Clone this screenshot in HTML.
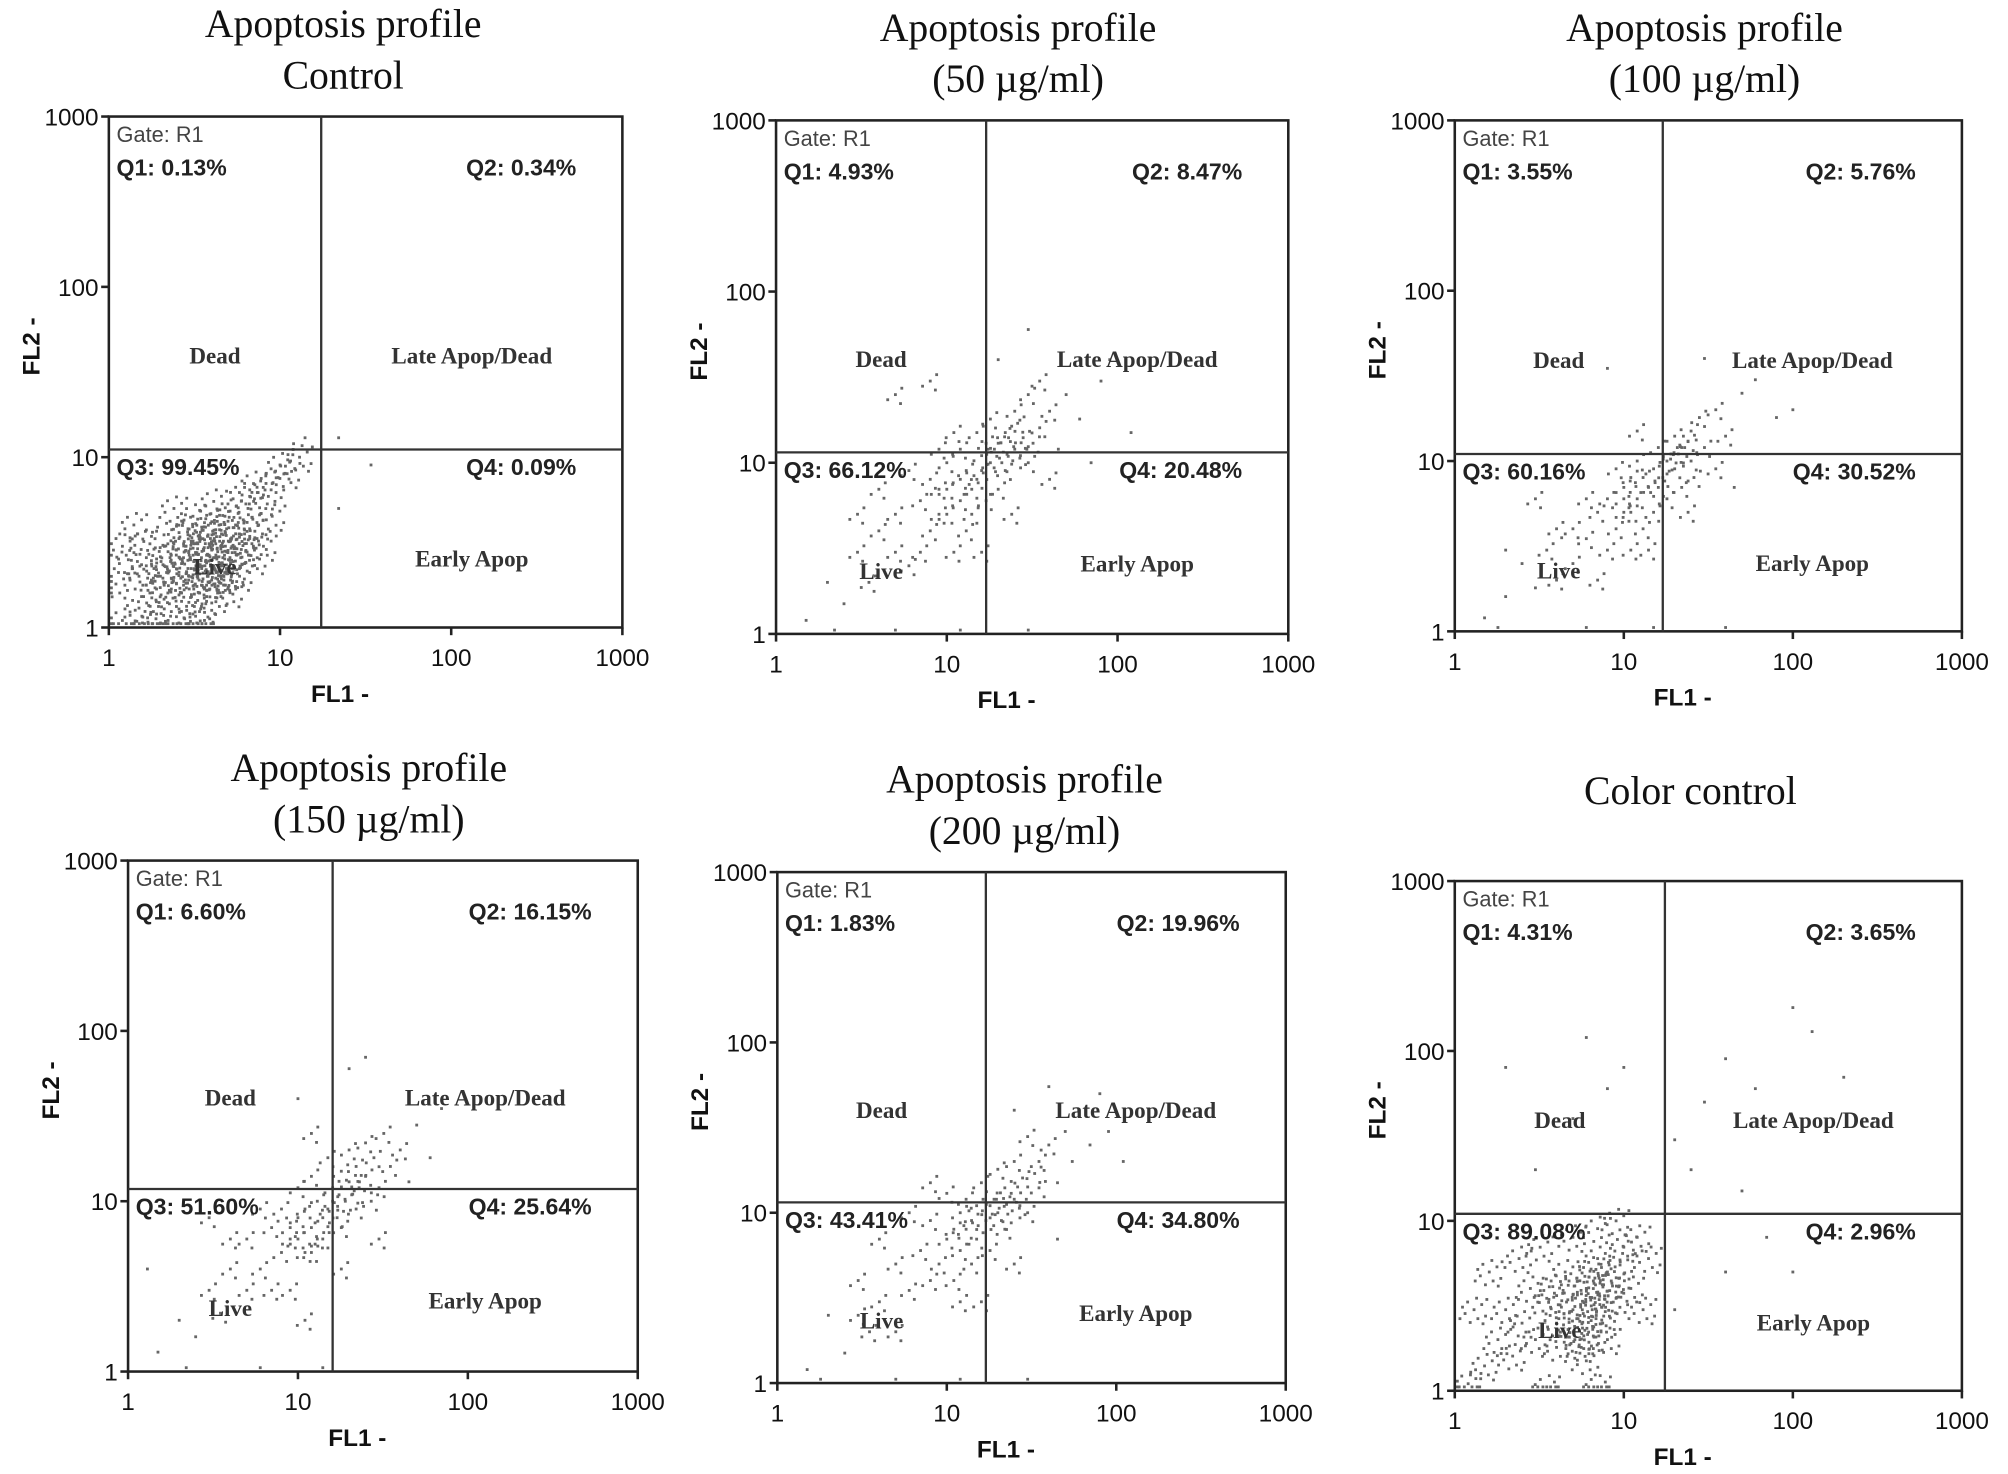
<!DOCTYPE html>
<html><head><meta charset="utf-8"><style>
body{margin:0;background:#fff}
svg{display:block}
</style></head><body>
<svg id="fig" width="2008" height="1474" viewBox="0 0 1568 1151" xmlns="http://www.w3.org/2000/svg"></svg>
<script>
const ticks=[1,10,100,1000];
const tickLabels=["1","10","100","1000"];
const titles1=["Apoptosis profile","Apoptosis profile","Apoptosis profile","Apoptosis profile","Apoptosis profile","Color control"];
const titles2=["Control","(50 µg/ml)","(100 µg/ml)","(150 µg/ml)","(200 µg/ml)",""];
const q1=["0.13%","4.93%","3.55%","6.60%","1.83%","4.31%"];
const q2=["0.34%","8.47%","5.76%","16.15%","19.96%","3.65%"];
const q3=["99.45%","66.12%","60.16%","51.60%","43.41%","89.08%"];
const q4=["0.09%","20.48%","30.52%","25.64%","34.80%","2.96%"];
const gateX=[17.4,17,17,16,17,17.5];
const gateY=[11.1,11.5,11,11.8,11.5,11];
const pts0="1.2,1.1 1.5,1.3 1.8,1.6 2,2 2.2,1.4 2.5,2.2 2.8,3 3,2.5 3.2,1.8 3.5,2.8 3.8,3.5 4,2.2 4.2,1.5 4.5,3 5,2.5 5.5,4 6,3.2 6.5,5 7,2.5 8,6 9,7 10,9 12,12 14,13 1.3,2.5 1.6,3.2 1.9,1.2 2.3,2.7 2.6,1.7 2.9,3.8 3.3,2 3.6,1.3 3.9,2.6 4.3,4.2 4.7,1.9 5.2,3.3 5.8,2 6.3,2.8 7.5,4 1.1,1.8 1.4,4 2.1,3.5 2.4,5 2.7,2.4 3.1,4.5 3.4,3.2 3.7,2.1 4.1,5.5 4.6,2.4 5.1,1.6 5.6,2.9 1.7,1.05 2.5,1.05 3.5,1.05 1.5,2 2,2.6 3,1.5 4,3.5 4.5,2 5,4.8 6,6 8,3 9,4.5 2.2,2.2 3.3,2.9 3.8,2 4.4,2.6 2.8,1.9 1.2,3 1.6,2.2 2.1,1.8 2.6,3.4 3.1,1.2 3.6,3.9 4.1,1.8 4.8,3.6 5.3,2.1 6.7,3.7 7,7 11,8 13,10 22,13 34,9 22,5";
const pts1="1.5,1.2 2,2 2.5,1.5 3,3 3.5,2 4,4 5,3 5,5 6,2.5 7,6 8,4 8,8 9,5 10,7 10,10 11,3 12,6 12,12 13,9 14,5 15,8 15,15 16,11 17,6 18,10 18,18 20,13 20,7 22,15 22,9 25,12 25,20 28,14 30,10 30,25 35,16 35,30 40,20 45,12 50,25 60,18 60,40 80,30 30,60 20,40 6,9 9,12 11,15 4,7 7,3 3,5 13,4 16,3 24,5 40,8 70,10 2.2,1.05 5,1.05 12,1.05 30,1.05 90,40 120,15 5,25 8,30 14,7 16,9 19,12 21,10 23,14 26,17 32,13 12,8 10,5 9,7 17,13 27,11";
const pts2="1.5,1.2 2,1.6 2.5,2.5 3,1.8 3.5,3 4,2 5,4 5,2.5 6,3.5 7,5 8,3 8,6 9,4 10,7 10,5 11,8 12,6 12,10 13,4 14,7 15,9 15,5 16,12 17,8 18,6 19,11 20,14 20,9 22,12 22,7 25,15 25,10 28,18 30,12 35,20 35,9 40,14 50,25 60,30 80,18 12,15 9,9 6,6 4,4 3,6 2,3 7,2 11,3 14,3 24,5 45,7 1.8,1.05 6,1.05 15,1.05 40,1.05 8,35 30,40 100,20 10,6 13,8 16,7 18,10 21,11 24,13 26,8 11,5";
const pts3="1.5,1.3 2,2 2.5,1.6 3,3 3.5,2.2 4,4 5,3 5,6 6,4 7,7 7,3 8,5 8,9 9,6 10,8 10,12 11,5 12,7 12,14 13,10 14,6 15,9 15,18 16,12 17,8 18,15 19,10 20,20 20,13 22,16 22,9 25,22 25,14 28,18 30,12 32,25 35,16 40,20 45,13 50,28 60,18 70,35 20,60 25,70 10,40 12,25 6,9 4,6 3,8 9,3 11,2 18,4 30,6 1.3,4 2.2,1.05 6,1.05 14,1.05 9,7 11,9 13,6 14,8 16,10 18,7 21,11 23,13 27,10 12,5 10,6";
const pts4="1.5,1.2 2,2.5 2.5,1.5 3,4 3.5,2 4,3 5,5 5,2 6,3.5 7,6 8,4 8,9 9,5 10,7 10,13 11,4 12,6 12,10 13,8 14,5 15,11 15,7 16,15 17,9 18,6 19,12 20,18 20,10 22,14 22,8 25,20 25,12 28,16 30,10 30,28 35,20 35,14 40,25 45,15 50,30 55,20 60,40 70,25 80,50 90,30 110,20 25,40 40,55 8,15 6,10 4,7 3,2.5 12,3 16,3 25,5 45,7 1.8,1.05 5,1.05 12,1.05 30,1.05 14,9 18,11 21,9 24,13 27,11 33,17 13,12 11,8";
const pts5="1.2,1.1 1.5,1.4 1.8,2 2,3 2.2,1.6 2.5,2.5 2.8,4 3,2 3.5,3.5 4,2.5 4.5,5 5,3 5.5,2 6,4 6.5,3 7,6 7.5,2.5 8,5 9,3.5 10,7 11,4 12,8 13,3 14,6 6,1.5 4,1.8 8,2 1.3,3 1.6,5 2.4,6 3.2,7 5,8 7,9 9,10 3,20 5,40 8,60 10,80 20,30 30,50 40,90 60,60 100,180 130,130 200,70 300,40 25,20 50,15 70,8 100,5 40,5 20,3 2,80 6,120 3.5,1.05 7,1.05 5.8,3.3 6.2,2.7 6.8,4.2 7.2,3.6 5.3,4.4 4.8,2.2 6.4,5.2 7.8,3.1 8.5,4.3 5.6,1.8 6.6,2.1 3.8,4.1 4.2,3.2 9.5,5.5";
const ptsAll=[pts0,pts1,pts2,pts3,pts4,pts5];
// visual rendering: core events drawn as a small fixed dot cluster (styling, not data)
const clusterDense=[[0,0],[-7,3],[6,-4],[3,7],[-5,-6],[9,5],[-9,-2],[2,-9],[-3,10],[10,-8],[-11,7],[7,11]];
const clusterSparse=[[0,0],[-6,4],[5,-5],[4,7]];
const single=[[0,0]];
const denseFlag=[true,false,false,false,false,true];
const boxes=[[85,91,401,399],[606,94,400,401],[1136,94,396,399],[100,672,398,399],[607,681,397,399],[1136,688,396,398]];
const titleCx=[268,795,1331,288,800,1320];
const svg=document.getElementById('fig');
const NS="http://www.w3.org/2000/svg";
function mk(t,a,txt,p){const e=document.createElementNS(NS,t);for(const k in a)e.setAttribute(k,a[k]);if(txt!=null)e.textContent=txt;(p||svg).appendChild(e);return e;}
boxes.forEach((b,i)=>{
  const [L,T,W,H]=b;
  const g=mk('g',{});
  
  
  const sx=v=>L+Math.log10(v)/3*W, sy=v=>T+H-Math.log10(v)/3*H;
  const cx=titleCx[i];
  const tf='font-family:"Liberation Serif",serif;font-size:31px;fill:#111';
  if(titles2[i]){
    let t=mk('text',{x:cx,y:T-62,'text-anchor':'middle',style:tf},titles1[i],g);
    
    t=mk('text',{x:cx,y:T-22,'text-anchor':'middle',style:tf},titles2[i],g);
    
  } else {
    let t=mk('text',{x:cx,y:T-60,'text-anchor':'middle',style:tf},titles1[i],g);
    
  }
  ptsAll[i].split(' ').forEach(s=>{const [x,y]=s.split(',').map(Number);
    const px=sx(x), py=sy(y);
    let cl;
    if(denseFlag[i]) cl=(x<gateX[i]&&y<gateY[i])?clusterDense:single;
    else cl=(x>=3&&x<=40&&y>=2&&y<=30)?clusterSparse:single;
    cl.forEach(o=>{
      const qx=Math.min(Math.max(px+o[0],L+2),L+W-3), qy=Math.min(Math.max(py+o[1],T+2),T+H-3);
      const c=mk('rect',{x:qx-1.1,y:qy-1.1,width:2.2,height:2.2,fill:'#666'},null,g);
      });
  });
  const fr=mk('rect',{x:L,y:T,width:W,height:H,fill:'none',stroke:'#222','stroke-width':2},null,g);
  
  let v=mk('line',{x1:sx(gateX[i]),x2:sx(gateX[i]),y1:T,y2:T+H,stroke:'#333','stroke-width':1.8},null,g);
  
  v=mk('line',{x1:L,x2:L+W,y1:sy(gateY[i]),y2:sy(gateY[i]),stroke:'#333','stroke-width':1.8},null,g);
  
  const af='font-family:"Liberation Sans",sans-serif;font-size:19px;fill:#111';
  ticks.forEach((tv,k)=>{
    let t=mk('text',{x:sx(tv),y:T+H+30,'text-anchor':'middle',style:af},tickLabels[k],g);
    
    t=mk('text',{x:L-8,y:sy(tv)+7,'text-anchor':'end',style:af},tickLabels[k],g);
    
    mk('line',{x1:L-6,x2:L,y1:sy(tv),y2:sy(tv),stroke:'#222','stroke-width':2},null,g);
    mk('line',{x1:sx(tv),x2:sx(tv),y1:T+H,y2:T+H+6,stroke:'#222','stroke-width':2},null,g);
  });
  const bf='font-family:"Liberation Sans",sans-serif;font-size:19px;font-weight:bold;fill:#111';
  let t=mk('text',{x:L+(W/2)-20,y:T+H+58,'text-anchor':'middle',style:bf},'FL1 -',g);
  
  t=mk('text',{x:0,y:0,'text-anchor':'middle',style:bf,transform:`translate(${L-54},${T+H/2-20}) rotate(-90)`},'FL2 -',g);
  
  const gx=sx(gateX[i]), gy=sy(gateY[i]);
  const qf='font-family:"Liberation Sans",sans-serif;font-size:18px;font-weight:bold;fill:#222';
  t=mk('text',{x:L+6,y:T+20,style:'font-family:"Liberation Sans",sans-serif;font-size:17px;fill:#444'},'Gate: R1',g);
  
  t=mk('text',{x:L+6,y:T+46,style:qf},'Q1: '+q1[i],g);
  t=mk('text',{x:L+W-36,y:T+46,'text-anchor':'end',style:qf},'Q2: '+q2[i],g);
  t=mk('text',{x:L+6,y:gy+20,style:qf},'Q3: '+q3[i],g);
  t=mk('text',{x:L+W-36,y:gy+20,'text-anchor':'end',style:qf},'Q4: '+q4[i],g);
  const sf='font-family:"Liberation Serif",serif;font-size:18px;font-weight:bold;fill:#333';
  const my=(T+gy)/2+63, lx=(L+gx)/2, rx=(gx+L+W)/2, ly=(gy+T+H)/2+22;
  [['Dead',lx,my,'dead-label'],['Late Apop/Dead',rx,my,'late-apop-label'],['Live',lx,ly+6,'live-label'],['Early Apop',rx,ly,'early-apop-label']].forEach(a=>{
    const e=mk('text',{x:a[1],y:a[2],'text-anchor':'middle',style:sf},a[0],g);
    });
});
</script>
</body></html>
